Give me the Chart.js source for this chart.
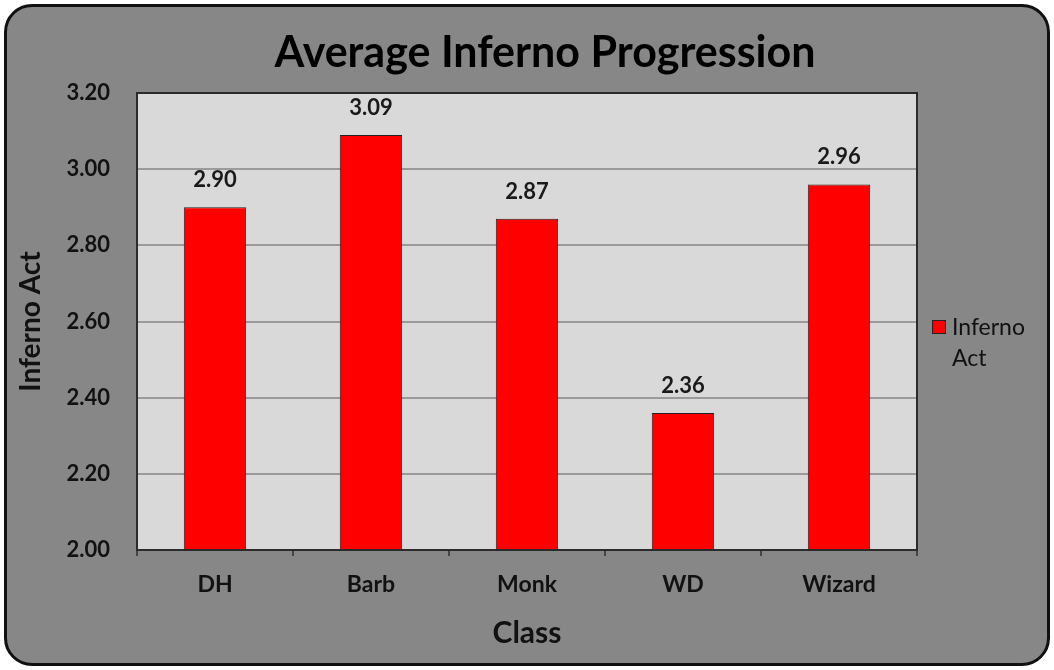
<!DOCTYPE html>
<html>
<head>
<meta charset="utf-8">
<script src="https://cdn.jsdelivr.net/npm/chart.js@4"></script>
<style>
  html, body { margin: 0; padding: 0; background: #fff; }
  #wrap { position: relative; width: 1054px; height: 670px; }
  #frame {
    position: absolute; left: 4px; top: 4px; width: 1040px; height: 656px;
    border: 3px solid #111; border-radius: 28px; background: #878787;
  }
  #chart { position: absolute; left: 0; top: 0; }
</style>
</head>
<body>
<div id="wrap">
  <div id="frame"></div>
  <canvas id="chart" width="1054" height="670"></canvas>
</div>
<script>
// Données du graphique
const chartTitle = 'Average Inferno Progression';
const categories = ['DH', 'Barb', 'Monk', 'WD', 'Wizard'];
const seriesName = 'Inferno Act';
const infernoAct = [2.90, 3.09, 2.87, 2.36, 2.96];
const yMin = 2.0;
const yMax = 3.2;
const yStep = 0.2;

const FONT = 'Lato, "Open Sans", sans-serif';

// Fond + bordure de la zone de tracé
const plotAreaPlugin = {
  id: 'plotArea',
  beforeDraw(chart) {
    const { ctx, chartArea: a } = chart;
    ctx.save();
    ctx.fillStyle = '#d9d9d9';
    ctx.fillRect(a.left, a.top, a.right - a.left, a.bottom - a.top);
    ctx.restore();
  },
  afterDatasetsDraw(chart) {
    const { ctx, chartArea: a } = chart;
    ctx.save();
    ctx.strokeStyle = '#2b2b2b';
    ctx.lineWidth = 2;
    ctx.strokeRect(a.left, a.top, a.right - a.left, a.bottom - a.top);
    ctx.restore();
  }
};

// Titre, étiquettes de valeurs et légende
const annotationsPlugin = {
  id: 'annotations',
  afterDraw(chart) {
    const { ctx, chartArea: a } = chart;
    ctx.save();
    ctx.fillStyle = '#000';
    ctx.textAlign = 'center';
    ctx.textBaseline = 'alphabetic';
    ctx.font = 'bold 43px ' + FONT;
    ctx.fillText(chartTitle, 545, 67);

    ctx.textBaseline = 'middle';
    ctx.font = 'bold 22px ' + FONT;
    ctx.fillStyle = '#1a1a1a';
    const meta = chart.getDatasetMeta(0);
    meta.data.forEach((bar, i) => {
      const v = chart.data.datasets[0].data[i];
      ctx.fillText(v.toFixed(2), bar.x, bar.y - 27);
    });

    // légende
    const ds = chart.data.datasets[0];
    const lx = a.right + 15;
    const ly = 320;
    ctx.fillStyle = ds.backgroundColor;
    ctx.fillRect(lx, ly, 14, 14);
    ctx.strokeStyle = '#222';
    ctx.lineWidth = 1;
    ctx.strokeRect(lx + 0.5, ly + 0.5, 13, 13);
    ctx.fillStyle = '#111';
    ctx.textAlign = 'left';
    ctx.font = '23px ' + FONT;
    const words = ds.label.split(' ');
    ctx.fillText(words[0], lx + 20, ly + 8);
    ctx.fillText(words.slice(1).join(' '), lx + 20, ly + 39);
    ctx.restore();
  }
};

new Chart(document.getElementById('chart'), {
  type: 'bar',
  data: {
    labels: categories,
    datasets: [{
      label: seriesName,
      data: infernoAct,
      backgroundColor: '#ff0000',
      borderColor: '#222',
      borderWidth: 1,
      borderSkipped: false,
      barPercentage: 0.4,
      categoryPercentage: 1.0
    }]
  },
  options: {
    responsive: false,
    animation: false,
    layout: { padding: { top: 93, left: 8, right: 137, bottom: 8 } },
    plugins: {
      legend: { display: false },
      tooltip: { enabled: false },
      title: { display: false }
    },
    scales: {
      x: {
        offset: true,
        grid: { drawOnChartArea: false, drawTicks: true, tickLength: 6, offset: true, color: '#444', lineWidth: 2 },
        border: { display: true, color: '#2b2b2b', width: 2 },
        ticks: { color: '#111', padding: 15, font: { family: FONT, size: 23, weight: 'bold' } },
        title: {
          display: true, text: 'Class', color: '#111',
          font: { family: FONT, size: 30, weight: 'bold' },
          padding: { top: 0, bottom: 11 }
        },
        afterFit(scale) { scale.height = 112; }
      },
      y: {
        min: yMin,
        max: yMax,
        grid: { color: '#9a9a9a', lineWidth: 2, drawTicks: false },
        border: { display: true, color: '#2b2b2b', width: 2 },
        ticks: {
          stepSize: yStep,
          color: '#111',
          padding: 27,
          font: { family: FONT, size: 22, weight: 'bold' },
          callback: (v) => Number(v).toFixed(2)
        },
        title: {
          display: true, text: 'Inferno Act', color: '#111',
          font: { family: FONT, size: 28, weight: 'bold' },
          padding: { top: 6, bottom: 0 }
        },
        afterFit(scale) { scale.width = 129; }
      }
    }
  },
  plugins: [plotAreaPlugin, annotationsPlugin]
});
</script>
</body>
</html>
